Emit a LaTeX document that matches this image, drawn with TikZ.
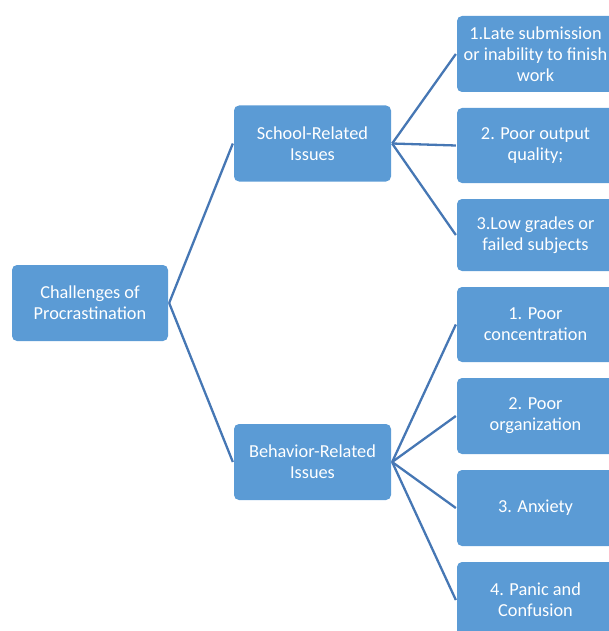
\documentclass[tikz,border=0pt]{standalone}
\usepackage{fontspec}
\setmainfont{Carlito}
\definecolor{boxblue}{HTML}{5B9BD5}
\definecolor{lineblue}{HTML}{4677B4}
\begin{document}
\begin{tikzpicture}[x=1pt,y=-1pt,line width=2.3pt,
    main node/.style={fill=boxblue,draw=none,rounded corners=5pt,text=white,
      align=center,minimum width=157pt,minimum height=76pt,inner sep=2pt,
      font=\fontsize{18.3}{21}\selectfont}]
    \useasboundingbox (0,0) rectangle (609,631);
    \node[main node,minimum width=156pt] (root) at (90,303) {Challenges of\\Procrastination};
    \node[main node] (school) at (312.5,143.5) {School-Related\\Issues};
    \node[main node] (behav) at (312.5,462) {Behavior-Related\\Issues};

    \node[main node] (s1) at (535.5,54) {1.Late submission\\or inability to finish\\work};
    \node[main node,minimum height=75pt] (s2) at (535.5,145.5) {2. Poor output\\quality;};
    \node[main node,minimum height=72pt] (s3) at (535.5,235) {3.Low grades or\\failed subjects};
    \node[main node,minimum height=75pt] (b1) at (535.5,324.5) {1. Poor\\concentration};
    \node[main node] (b2) at (535.5,416) {2. Poor\\organization};
    \node[main node] (b3) at (535.5,508) {3. Anxiety};
    \node[main node] (b4) at (535.5,600) {4. Panic and\\Confusion};

    \path[draw=lineblue]
      (root.east) edge (school.west)
      (root.east) edge (behav.west)
      (school.east) edge (s1.west)
      (school.east) edge (s2.west)
      (school.east) edge (s3.west)
      (behav.east) edge (b1.west)
      (behav.east) edge (b2.west)
      (behav.east) edge (b3.west)
      (behav.east) edge (b4.west);
\end{tikzpicture}
\end{document}
